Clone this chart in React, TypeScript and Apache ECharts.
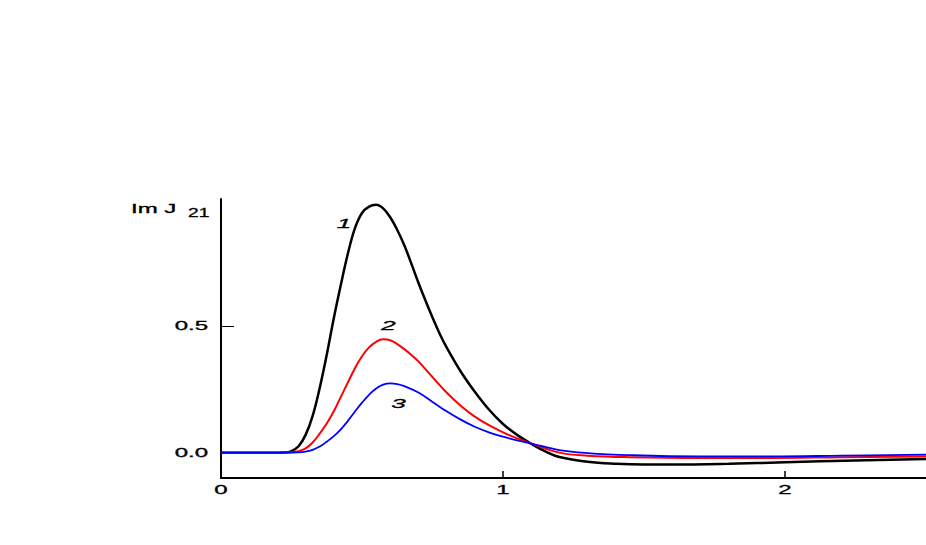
import React, { useEffect, useRef } from "react";
import * as echarts from "echarts";

const curve1X = [0, 0.2, 0.225, 0.25, 0.275, 0.3, 0.325, 0.35, 0.375, 0.4, 0.425, 0.45, 0.475, 0.5, 0.525, 0.55, 0.575, 0.6, 0.625, 0.65, 0.675, 0.7, 0.725, 0.75, 0.775, 0.8, 0.85, 0.9, 0.95, 1.0, 1.05, 1.1, 1.15, 1.2, 1.3, 1.4, 1.5, 1.6, 1.8, 2.0, 2.25, 2.5];
const curve1Y = [0, 0, 0.0005, 0.006, 0.025, 0.07, 0.145, 0.255, 0.386, 0.53, 0.662, 0.785, 0.885, 0.945, 0.97, 0.977, 0.963, 0.928, 0.878, 0.818, 0.745, 0.67, 0.6, 0.533, 0.47, 0.415, 0.32, 0.24, 0.17, 0.113, 0.07, 0.035, 0.005, -0.017, -0.036, -0.044, -0.047, -0.047, -0.044, -0.038, -0.031, -0.025];

const curve2X = [0, 0.22, 0.25, 0.275, 0.3, 0.325, 0.35, 0.375, 0.4, 0.425, 0.45, 0.475, 0.5, 0.525, 0.55, 0.575, 0.6, 0.625, 0.65, 0.675, 0.7, 0.75, 0.8, 0.85, 0.9, 0.95, 1.0, 1.05, 1.1, 1.2, 1.3, 1.45, 1.7, 1.95, 2.2, 2.5];
const curve2Y = [0, 0, 0.002, 0.006, 0.017, 0.04, 0.075, 0.115, 0.163, 0.22, 0.277, 0.333, 0.38, 0.415, 0.437, 0.447, 0.443, 0.428, 0.408, 0.385, 0.36, 0.298, 0.237, 0.185, 0.142, 0.108, 0.08, 0.056, 0.036, 0.0, -0.012, -0.018, -0.021, -0.021, -0.018, -0.015];

const curve3X = [0, 0.23, 0.27, 0.3, 0.325, 0.35, 0.375, 0.4, 0.425, 0.45, 0.475, 0.5, 0.525, 0.55, 0.575, 0.6, 0.625, 0.65, 0.7, 0.75, 0.8, 0.85, 0.9, 0.95, 1.0, 1.05, 1.1, 1.2, 1.3, 1.45, 1.7, 1.95, 2.2, 2.5];
const curve3Y = [0, 0, 0.001, 0.004, 0.011, 0.024, 0.043, 0.065, 0.092, 0.125, 0.162, 0.197, 0.228, 0.253, 0.268, 0.273, 0.27, 0.262, 0.237, 0.2, 0.163, 0.13, 0.102, 0.08, 0.063, 0.048, 0.036, 0.01, -0.002, -0.01, -0.015, -0.015, -0.012, -0.008];

const curveLabels = ["1", "2", "3"];
const labelX = [0.436, 0.594, 0.629];
const labelY = [0.906, 0.504, 0.193];

const xLabelValues = [0, 1, 2];
const xTickValues = [1, 2];
const yLabelValues = [0, 0.5];
const yTickValues = [0, 0.5];
const yTitleMain = "Im J";
const yTitleSub = "21";

const colors = ["#000000", "#ff0000", "#0000ff"];
const widths = [2.5, 2, 1.8];

const zip = (xs: number[], ys: number[]) => xs.map((x, i) => [x, ys[i]]);

export default function App() {
  const ref = useRef<HTMLDivElement>(null);
  useEffect(() => {
    if (!ref.current) return;
    const chart = echarts.init(ref.current, null, { renderer: "svg" });
    const font = "'Liberation Sans', Arial, sans-serif";
    const SX = 2.0;
    const curves = [zip(curve1X, curve1Y), zip(curve2X, curve2Y), zip(curve3X, curve3Y)];
    const xMin = 0, xMax = 2.5, yMin = -0.1, yMax = 1.0;
    chart.setOption({
      animation: false,
      backgroundColor: "#ffffff",
      grid: { left: 221, right: 0, top: 199, bottom: 67, containLabel: false },
      xAxis: {
        type: "value",
        min: xMin,
        max: xMax,
        axisLine: { onZero: false, lineStyle: { color: "#000", width: 2 } },
        axisTick: { show: true, inside: true, length: 7, customValues: xTickValues, lineStyle: { color: "#000", width: 1.5 } },
        axisLabel: { show: false },
        splitLine: { show: false },
      },
      yAxis: {
        type: "value",
        min: yMin,
        max: yMax,
        axisLine: { show: true, lineStyle: { color: "#000", width: 2 } },
        axisTick: { show: true, inside: true, length: 13, customValues: yTickValues, lineStyle: { color: "#000", width: 1 } },
        axisLabel: { show: false },
        splitLine: { show: false },
      },
      series: curves.map((d, i) => ({
        type: "line",
        data: d,
        smooth: 0.4,
        showSymbol: false,
        symbol: "none",
        lineStyle: { color: colors[i], width: widths[i] },
        silent: true,
      })),
    });

    const toPx = (x: number, y: number) => chart.convertToPixel({ gridIndex: 0 }, [x, y]) as number[];
    const txt = (text: string, x: number, y: number, align: string, opts: any = {}) => ({
      type: "text",
      x,
      y,
      scaleX: opts.scaleX ?? SX,
      silent: true,
      style: {
        text,
        fill: "#000",
        fontFamily: font,
        fontSize: opts.fontSize ?? 12,
        fontStyle: opts.fontStyle ?? "normal",
        fontWeight: opts.fontWeight ?? "normal",
        stroke: "#000",
        lineWidth: opts.lineWidth ?? 0.3,
        align,
        verticalAlign: "middle",
        textAlign: align,
        textVerticalAlign: "middle",
      },
    });

    const graphics: any[] = [];
    xLabelValues.forEach((v) => {
      const p = toPx(v, yMin);
      graphics.push(txt(String(v), p[0], p[1] + 12, "center"));
    });
    yLabelValues.forEach((v) => {
      const p = toPx(xMin, v);
      graphics.push(txt(v.toFixed(1), p[0] - 13, p[1], "right"));
    });
    const top = toPx(xMin, yMax);
    graphics.push(txt(yTitleMain, top[0] - 90, top[1] + 10, "left"));
    graphics.push(txt(yTitleSub, top[0] - 33, top[1] + 14, "left", { scaleX: 1.6 }));
    curveLabels.forEach((t, i) => {
      const p = toPx(labelX[i], labelY[i]);
      graphics.push(txt(t, p[0], p[1], "center", { fontSize: 13, fontStyle: "italic", scaleX: 2.0 }));
    });
    chart.setOption({ graphic: graphics });

    return () => chart.dispose();
  }, []);
  return <div ref={ref} style={{ position: "fixed", left: 0, top: 0, width: 926, height: 545 }} />;
}
